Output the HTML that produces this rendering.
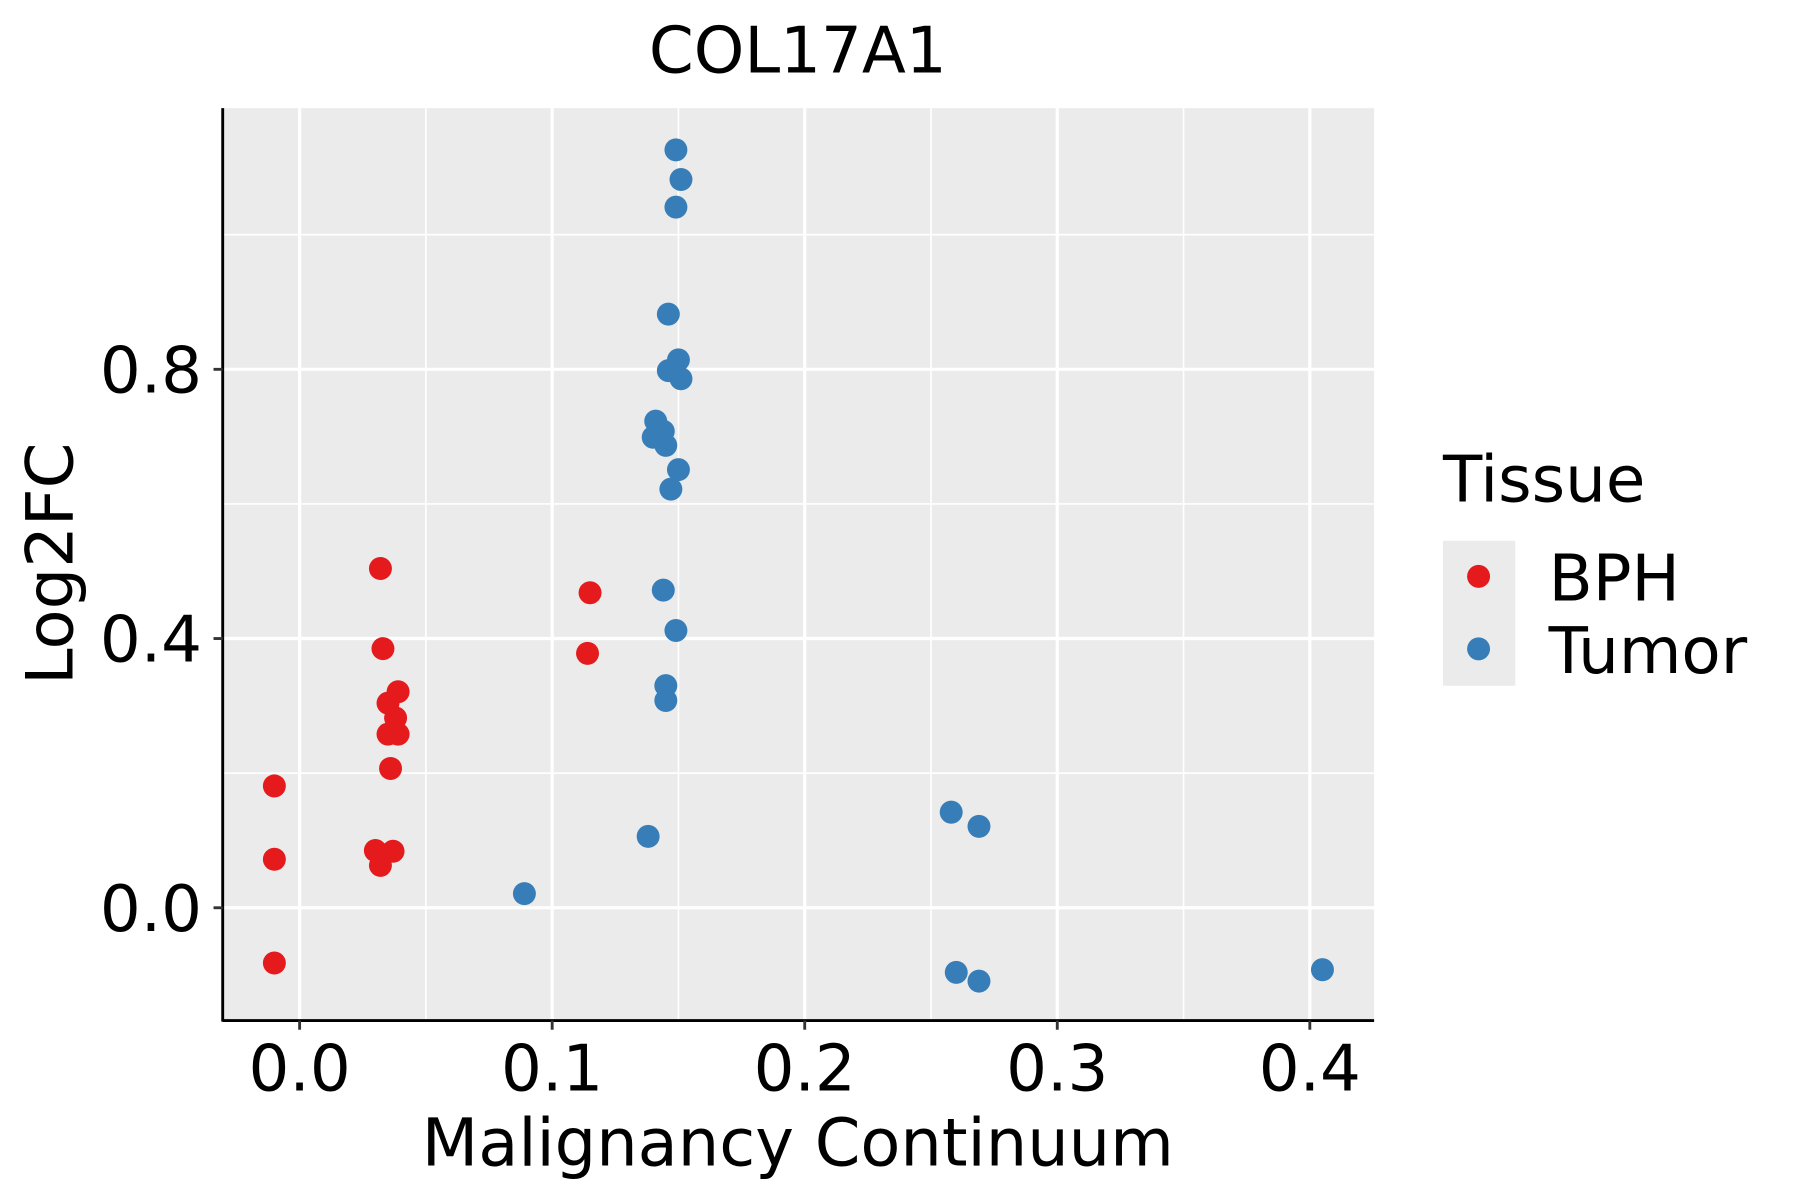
<!DOCTYPE html>
<html><head><meta charset="utf-8"><style>
html,body{margin:0;padding:0;background:#fff;}
svg{display:block;font-family:"DejaVu Sans","Liberation Sans",sans-serif;}
</style></head><body>
<svg id="chart" width="1800" height="1200" viewBox="0 0 1568 1043" preserveAspectRatio="none" xmlns="http://www.w3.org/2000/svg">
<text x="695" y="63" font-size="56" text-anchor="middle" fill="#000">COL17A1</text>
<rect x="194" y="94" width="1003" height="793" fill="#ebebeb"/>
<g id="grid"></g>
<g id="points"></g>
<line x1="194" y1="887" x2="1197" y2="887" stroke="#000" stroke-width="2.5"/>
<line x1="194" y1="94" x2="194" y2="888" stroke="#000" stroke-width="2.5"/>
<g id="ticks"></g>
<text x="695" y="1013" font-size="57" text-anchor="middle" fill="#000">Malignancy Continuum</text>
<text transform="translate(63,490) rotate(-90)" font-size="57" text-anchor="middle" fill="#000">Log2FC</text>
<g>
<text x="1257" y="436" font-size="56" fill="#000">Tissue</text>
<rect x="1257" y="470" width="63" height="126" fill="#ebebeb"/>
<g><circle cx="1288" cy="501" r="10" fill="#e41a1c"/><text x="1349" y="522" font-size="56" fill="#000">BPH</text></g>
<g><circle cx="1288" cy="564" r="10" fill="#377eb8"/><text x="1349" y="585" font-size="56" fill="#000">Tumor</text></g>
</g>
</svg>
<script>
const bphX=[-0.010,-0.010,-0.010,0.032,0.033,0.039,0.035,0.038,0.035,0.039,0.036,0.030,0.037,0.032,0.115,0.114];
const bphY=[0.181,0.072,-0.082,0.504,0.385,0.321,0.304,0.282,0.258,0.258,0.207,0.085,0.084,0.063,0.468,0.378];
const tumorX=[0.149,0.151,0.149,0.146,0.150,0.146,0.151,0.141,0.144,0.140,0.145,0.150,0.147,0.144,0.149,0.145,0.145,0.138,0.089,0.258,0.269,0.260,0.269,0.405];
const tumorY=[1.126,1.082,1.041,0.882,0.814,0.798,0.786,0.723,0.708,0.699,0.687,0.651,0.622,0.472,0.412,0.330,0.308,0.106,0.021,0.142,0.121,-0.096,-0.109,-0.092];
const xTicks=[0.0,0.1,0.2,0.3,0.4];
const xTickLabels=["0.0","0.1","0.2","0.3","0.4"];
const yTicks=[0.0,0.4,0.8];
const yTickLabels=["0.0","0.4","0.8"];
const xMinor=[0.05,0.15,0.25,0.35];
const yMinor=[0.2,0.6,1.0];
const NS="http://www.w3.org/2000/svg";
function sx(v){return 261+v*2200;}
function sy(v){return 789-v*585;}
const grid=document.getElementById('grid');
const ticks=document.getElementById('ticks');
const pts=document.getElementById('points');
function ln(p,x1,y1,x2,y2,w,c,name){const l=document.createElementNS(NS,'line');l.setAttribute('x1',x1);l.setAttribute('y1',y1);l.setAttribute('x2',x2);l.setAttribute('y2',y2);l.setAttribute('stroke',c);l.setAttribute('stroke-width',w);


p.appendChild(l);}
xMinor.forEach(v=>ln(grid,sx(v),94,sx(v),887,1.4,'#fff','x-minor-grid'));
yMinor.forEach(v=>ln(grid,194,sy(v),1197,sy(v),1.4,'#fff','y-minor-grid'));
xTicks.forEach(v=>ln(grid,sx(v),94,sx(v),887,2.8,'#fff','x-major-grid'));
yTicks.forEach(v=>ln(grid,194,sy(v),1197,sy(v),2.8,'#fff','y-major-grid'));
function tx(x,y,s,anchor){const t=document.createElementNS(NS,'text');t.setAttribute('x',x);t.setAttribute('y',y);t.setAttribute('font-size','56');t.setAttribute('text-anchor',anchor);t.setAttribute('fill','#000');t.textContent=s;


ticks.appendChild(t);}
xTicks.forEach((v,i)=>{ln(ticks,sx(v),887,sx(v),895,2.5,'#333','x-tick');tx(sx(v),948,xTickLabels[i],'middle');});
yTicks.forEach((v,i)=>{ln(ticks,186,sy(v),194,sy(v),2.5,'#333','y-tick');tx(176,sy(v)+20,yTickLabels[i],'end');});
function dot(x,y,c,name){const d=document.createElementNS(NS,'circle');d.setAttribute('cx',sx(x));d.setAttribute('cy',sy(y));d.setAttribute('r','10');d.setAttribute('fill',c);


pts.appendChild(d);}
bphX.forEach((x,i)=>dot(x,bphY[i],'#e41a1c','point-bph'));
tumorX.forEach((x,i)=>dot(x,tumorY[i],'#377eb8','point-tumor'));
</script>
</body></html>
